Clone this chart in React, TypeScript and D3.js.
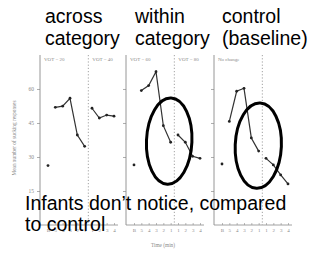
import React from 'react';
import * as d3 from 'd3';

const timeLabels = ['B', '5', '4', '3', '2', '1', '1', '2', '3', '4'];
const yTicks = [15, 30, 45, 60];

const panelHeaders = [['across', 'category'], ['within', 'category'], ['control', '(baseline)']];
const preLabels = ['VOT = 20', 'VOT = 60', 'No change'];
const postLabels = ['VOT = 40', 'VOT = 80', ''];

// B, then minutes 5..1 before the shift
const acrossPre = [26.2, 51.9, 52.4, 55.9, 39.7, 34.7];
const withinPre = [26.5, 59.3, 61.5, 67.6, 43.8, 36.5];
const controlPre = [26.9, 45.7, 59.0, 60.3, 38.4, 32.6];
// minutes 1..4 after the shift
const acrossPost = [51.5, 47.2, 48.5, 48.0];
const withinPost = [39.7, 36.5, 30.3, 29.4];
const controlPost = [29.4, 26.5, 22.1, 18.1];

const panelPre = [acrossPre, withinPre, controlPre];
const panelPost = [acrossPost, withinPost, controlPost];

// circled regions: panel, time index, value, radii in data units
const circled = [
  { panel: 1, t: 4.8, v: 37, rt: 3.1, rv: 19 },
  { panel: 2, t: 4.95, v: 35, rt: 3.15, rv: 18.8 },
];

const headerLines = ['Infants don\u2019t notice, compared', 'to control'];

const W = 313;
const H = 255;
const panelLeft = [40, 126, 214];
const sans = "'Liberation Sans', Arial, sans-serif";
const serif = "'Liberation Serif', 'DejaVu Serif', serif";
const grey = '#8a8a8a';

const App = () => {
  const ref = React.useRef<SVGSVGElement>(null);

  React.useEffect(() => {
    const svg = d3.select(ref.current);
    svg.selectAll('*').remove();

    const y = d3.scaleLinear().domain([0, 73]).range([225, 59.5]);

    // title text above each panel
    panelHeaders.forEach((lines, i) => {
      const xs = [45, 135, 222];
      lines.forEach((s, j) => {
        svg.append('text')
          .attr('x', xs[i])
          .attr('y', 23 + j * 22)
          .attr('font-family', sans)
          .attr('font-size', 19.5)
          .attr('fill', '#000')
          .text(s);
      });
    });

    const line = d3.line<[number, number]>();

    panelLeft.forEach((x0, i) => {
      const x = d3.scaleLinear().domain([0, 9]).range([x0 + 8, x0 + 74]);
      const g = svg.append('g');

      // y axis
      const ya = g.append('g')
        .attr('transform', `translate(${x0},0)`)
        .call(d3.axisLeft(y).tickValues(yTicks).tickSize(3).tickFormat(i === 0 ? d3.format('d') : () => ''));
      ya.select('.domain').remove();
      ya.selectAll('line').attr('stroke', grey).attr('stroke-width', 0.7);
      ya.selectAll('text').attr('font-family', serif).attr('font-size', 5.5).attr('fill', grey);
      g.append('line')
        .attr('x1', x0).attr('x2', x0)
        .attr('y1', 55).attr('y2', y(0))
        .attr('stroke', grey).attr('stroke-width', 0.9);

      // x axis
      const xa = g.append('g')
        .attr('transform', `translate(0,${y(0)})`)
        .call(d3.axisBottom(x).tickValues(d3.range(10)).tickSize(2).tickFormat((d) => timeLabels[d as number]));
      xa.select('.domain').remove();
      xa.selectAll('line').attr('stroke', grey).attr('stroke-width', 0.6).attr('y1', -2).attr('y2', 0);
      xa.selectAll('text').attr('font-family', serif).attr('font-size', 5).attr('fill', grey).attr('dy', '0.3em');
      g.append('line')
        .attr('x1', x0).attr('x2', x(9) + 4)
        .attr('y1', y(0)).attr('y2', y(0))
        .attr('stroke', grey).attr('stroke-width', 0.8);

      // shift separator
      g.append('line')
        .attr('x1', x(5.5)).attr('x2', x(5.5))
        .attr('y1', 55).attr('y2', y(0))
        .attr('stroke', grey).attr('stroke-width', 0.8)
        .attr('stroke-dasharray', '1.2,2');

      // condition labels
      [[preLabels[i], x0 + 4], [postLabels[i], x(5.5) + 4]].forEach(([s, xx]) => {
        g.append('text')
          .attr('x', xx as number)
          .attr('y', 61)
          .attr('font-family', serif)
          .attr('font-size', 5)
          .attr('fill', grey)
          .text(s as string);
      });

      const pre = panelPre[i];
      const post = panelPost[i];
      const prePts: [number, number][] = pre.slice(1).map((v, k) => [x(k + 1), y(v)]);
      const postPts: [number, number][] = post.map((v, k) => [x(k + 6), y(v)]);

      [prePts, postPts].forEach((pts) => {
        g.append('path')
          .attr('d', line(pts))
          .attr('fill', 'none')
          .attr('stroke', '#333')
          .attr('stroke-width', 1.2);
      });
      const allPts: [number, number][] = [[x(0), y(pre[0])], ...prePts, ...postPts];
      g.selectAll('circle.pt')
        .data(allPts)
        .join('circle')
        .attr('cx', (d) => d[0])
        .attr('cy', (d) => d[1])
        .attr('r', 1.4)
        .attr('fill', '#222');
    });

    // y axis title
    svg.append('text')
      .attr('transform', `translate(16,138) rotate(-90)`)
      .attr('text-anchor', 'middle')
      .attr('font-family', serif)
      .attr('font-size', 5.3)
      .attr('fill', grey)
      .text('Mean number of sucking responses');

    // x axis title
    svg.append('text')
      .attr('x', 163)
      .attr('y', 247)
      .attr('text-anchor', 'middle')
      .attr('font-family', serif)
      .attr('font-size', 5.3)
      .attr('fill', grey)
      .text('Time (min)');

    // circled annotations
    circled.forEach((c) => {
      const x0 = panelLeft[c.panel];
      const x = d3.scaleLinear().domain([0, 9]).range([x0 + 8, x0 + 74]);
      const cx = x(c.t);
      const cy = y(c.v);
      svg.append('ellipse')
        .attr('cx', cx)
        .attr('cy', cy)
        .attr('rx', x(c.rt) - x(0))
        .attr('ry', y(0) - y(c.rv))
        .attr('transform', `rotate(2.5,${cx},${cy})`)
        .attr('fill', 'none')
        .attr('stroke', '#000')
        .attr('stroke-width', 3);
    });

    // overlay caption
    headerLines.forEach((s, j) => {
      svg.append('text')
        .attr('x', 25)
        .attr('y', 210 + j * 21)
        .attr('font-family', sans)
        .attr('font-size', 19.5)
        .attr('fill', '#000')
        .text(s);
    });
  }, []);

  return (
    <svg
      ref={ref}
      width={W}
      height={H}
      style={{ position: 'absolute', left: 0, top: 0, background: '#fff' }}
    />
  );
};

export default App;
